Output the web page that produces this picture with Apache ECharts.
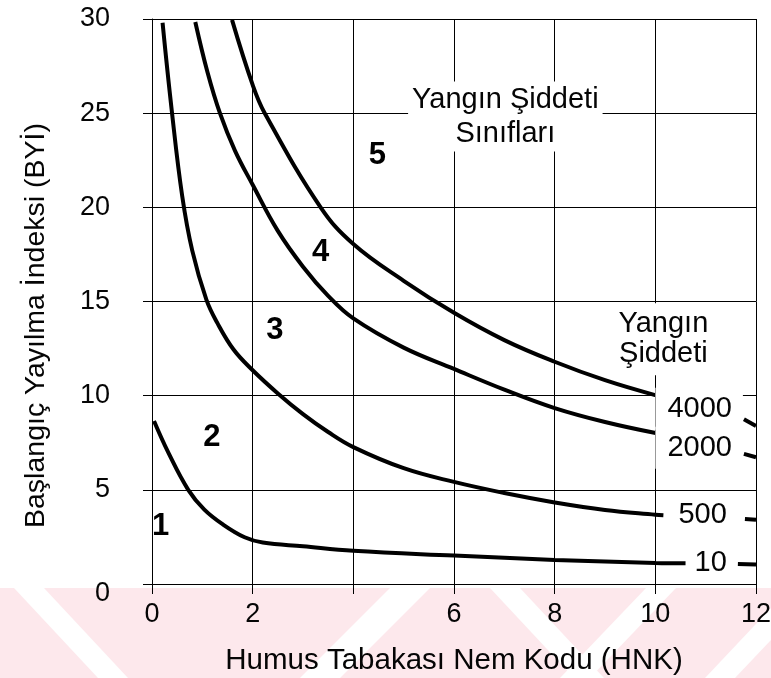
<!DOCTYPE html>
<html>
<head>
<meta charset="utf-8">
<script src="https://cdn.jsdelivr.net/npm/echarts@6/dist/echarts.min.js"></script>
<style>
  html, body { margin: 0; padding: 0; background: #fff; }
  #chart { width: 771px; height: 678px; }
</style>
</head>
<body>
<div id="chart"></div>
<script>
// Başlangıç Yayılma İndeksi (BYİ) against Humus Tabakası Nem Kodu (HNK),
// one curve per fire-intensity level.
const intensity10 = [[0.04, 8.65], [0.32, 7.0], [0.72, 5.0], [1.04, 3.95], [1.41, 3.16], [1.84, 2.48],
  [2.2, 2.2], [3.0, 2.0], [4.0, 1.76], [6.0, 1.51], [8.0, 1.28], [10.0, 1.12], [10.6, 1.1]];
const intensity500 = [[0.21, 29.8], [0.39, 25.2], [0.6, 20.6], [0.8, 17.7], [1.08, 15.1], [1.3, 13.85],
  [1.62, 12.45], [2.0, 11.35], [2.5, 10.12], [3.0, 9.02], [3.5, 8.07], [4.0, 7.27], [5.0, 6.15],
  [6.0, 5.42], [7.0, 4.83], [8.0, 4.33], [9.0, 3.93], [10.0, 3.68], [10.16, 3.65]];
const intensity2000 = [[0.86, 29.84], [1.1, 27.2], [1.35, 25.0], [1.65, 23.0], [2.0, 21.2], [2.5, 18.75],
  [3.0, 16.85], [3.5, 15.3], [4.0, 14.1], [5.0, 12.55], [6.0, 11.42], [7.0, 10.32], [8.0, 9.34],
  [9.0, 8.6], [10.03, 8.0]];
const intensity4000 = [[1.59, 29.95], [2.0, 26.5], [2.24, 25.0], [3.35, 20.0], [4.0, 18.05], [5.0, 16.1],
  [6.0, 14.4], [7.0, 12.95], [8.0, 11.8], [9.0, 10.82], [10.03, 10.0]];

// short continuations of each curve at the right edge of the grid
const tail4000 = [[11.76, 8.75], [12, 8.39]];
const tail2000 = [[11.76, 6.91], [12, 6.73]];
const tail500 = [[11.78, 3.45], [12, 3.41]];
const tail10 = [[11.64, 1.06], [12, 1.03]];

// fire-intensity class numbers and where they sit
const classNames = ['1', '2', '3', '4', '5'];
const classX = [0.17, 1.19, 2.44, 3.35, 4.48];
const classY = [3.08, 7.78, 13.46, 17.6, 22.78];

// curve end labels
const intensityNames = ['4000', '2000', '500', '10'];
const intensityLabelX = [11.74, 11.74, 11.42, 11.42];
const intensityLabelY = [9.31, 7.24, 3.66, 1.1];

const xTicks = [0, 2, 4, 6, 8, 10, 12];
const xHidden = [4];
const yTicks = [0, 5, 10, 15, 20, 25, 30];

const FONT = '"Liberation Sans", Arial, Helvetica, sans-serif';
const INK = '#000';
const TEXT = '#050505';

const curve = (name, data) => ({
  name, type: 'line', data, showSymbol: false, smooth: 0.4,
  lineStyle: { color: INK, width: 4 }, z: 3, silent: true
});

// invisible anchor points that only carry text
const textLayer = (name, data, label) => ({
  name, type: 'scatter', symbolSize: 0, silent: true, z: 4, clip: false,
  itemStyle: { color: INK, opacity: 1 },
  data, label: Object.assign({ show: true, textBorderWidth: 0, opacity: 1 }, label)
});

// faint diagonal-band watermark along the bottom edge of the page
const PINK = '#fde8ec';
const band = (pts) => ({ type: 'polygon', z: -9, silent: true, shape: { points: pts }, style: { fill: '#fff' } });

const chart = echarts.init(document.getElementById('chart'), null, { renderer: 'canvas' });

chart.setOption({
  animation: false,
  backgroundColor: '#fff',
  grid: { left: 152, right: 15, top: 19, bottom: 94, outerBoundsMode: 'none', containLabel: false },
  graphic: [
    { type: 'rect', z: -10, silent: true, shape: { x: 0, y: 588, width: 771, height: 90 }, style: { fill: PINK } },
    band([[14, 588], [44, 588], [128, 678], [98, 678]]),
    band([[300, 678], [340, 678], [430, 588], [390, 588]]),
    band([[490, 588], [520, 588], [604, 678], [574, 678]]),
    band([[560, 678], [590, 678], [676, 588], [646, 588]]),
    band([[705, 678], [735, 678], [771, 640], [771, 608]])
  ],
  xAxis: {
    type: 'value', min: xTicks[0], max: xTicks[xTicks.length - 1], interval: 2,
    name: 'Humus Tabakası Nem Kodu (HNK)', nameLocation: 'middle', nameGap: 62,
    nameTextStyle: { fontFamily: FONT, fontSize: 29.5, color: TEXT },
    axisLine: { show: true, lineStyle: { color: INK, width: 1 } },
    axisTick: { show: true, length: 10, lineStyle: { color: INK, width: 1 } },
    axisLabel: {
      margin: 17, fontFamily: FONT, fontSize: 27, color: TEXT,
      formatter: v => (xHidden.includes(v) ? '' : String(v))
    },
    splitLine: { show: true, lineStyle: { color: INK, width: 1 } }
  },
  yAxis: {
    type: 'value', min: yTicks[0], max: yTicks[yTicks.length - 1], interval: 5,
    name: 'Başlangıç Yayılma İndeksi (BYİ)', nameLocation: 'middle', nameGap: 101,
    nameTextStyle: { fontFamily: FONT, fontSize: 28.5, color: TEXT, padding: [0, 48, 0, 0] },
    axisLine: { show: true, lineStyle: { color: INK, width: 1 } },
    axisTick: { show: true, length: 9, lineStyle: { color: INK, width: 1 } },
    axisLabel: {
      margin: 42, fontFamily: FONT, fontSize: 27, color: TEXT,
      formatter: v => (v === 0 ? '{z|0}' : String(v)),
      rich: { z: { fontFamily: FONT, fontSize: 27, color: TEXT, padding: [20, 0, 0, 0] } }
    },
    splitLine: { show: true, lineStyle: { color: INK, width: 1 } }
  },
  series: [
    curve('10', intensity10),
    curve('500', intensity500),
    curve('2000', intensity2000),
    curve('4000', intensity4000),
    curve('4000 tail', tail4000),
    curve('2000 tail', tail2000),
    curve('500 tail', tail500),
    curve('10 tail', tail10),
    textLayer('classes',
      classNames.map((n, i) => [classX[i], classY[i], n]),
      { position: 'inside', formatter: p => p.data[2],
        fontFamily: FONT, fontSize: 31, fontWeight: 'bold', color: INK }),
    textLayer('intensity labels',
      intensityNames.map((n, i) => ({
        value: [intensityLabelX[i], intensityLabelY[i], n],
        label: i < 2
          ? { backgroundColor: '#fff', padding: [6, 11, 6, 12], lineHeight: 30 }
          : { padding: 0, lineHeight: 30 }
      })),
      { position: 'left', distance: 0, formatter: p => p.data.value[2],
        fontFamily: FONT, fontSize: 29, color: TEXT }),
    textLayer('titles',
      [
        { value: [7.02, 24.82, 'Yangın Şiddeti\nSınıfları'],
          label: { lineHeight: 34, padding: [1, 4, 1, 4] } },
        { value: [10.16, 13.0, 'Yangın\nŞiddeti'],
          label: { lineHeight: 30, padding: [6, 4, 6, 4] } }
      ],
      { position: 'inside', align: 'center', formatter: p => p.data.value[2],
        fontFamily: FONT, fontSize: 29, color: TEXT, backgroundColor: '#fff' })
  ]
});
</script>
</body>
</html>
